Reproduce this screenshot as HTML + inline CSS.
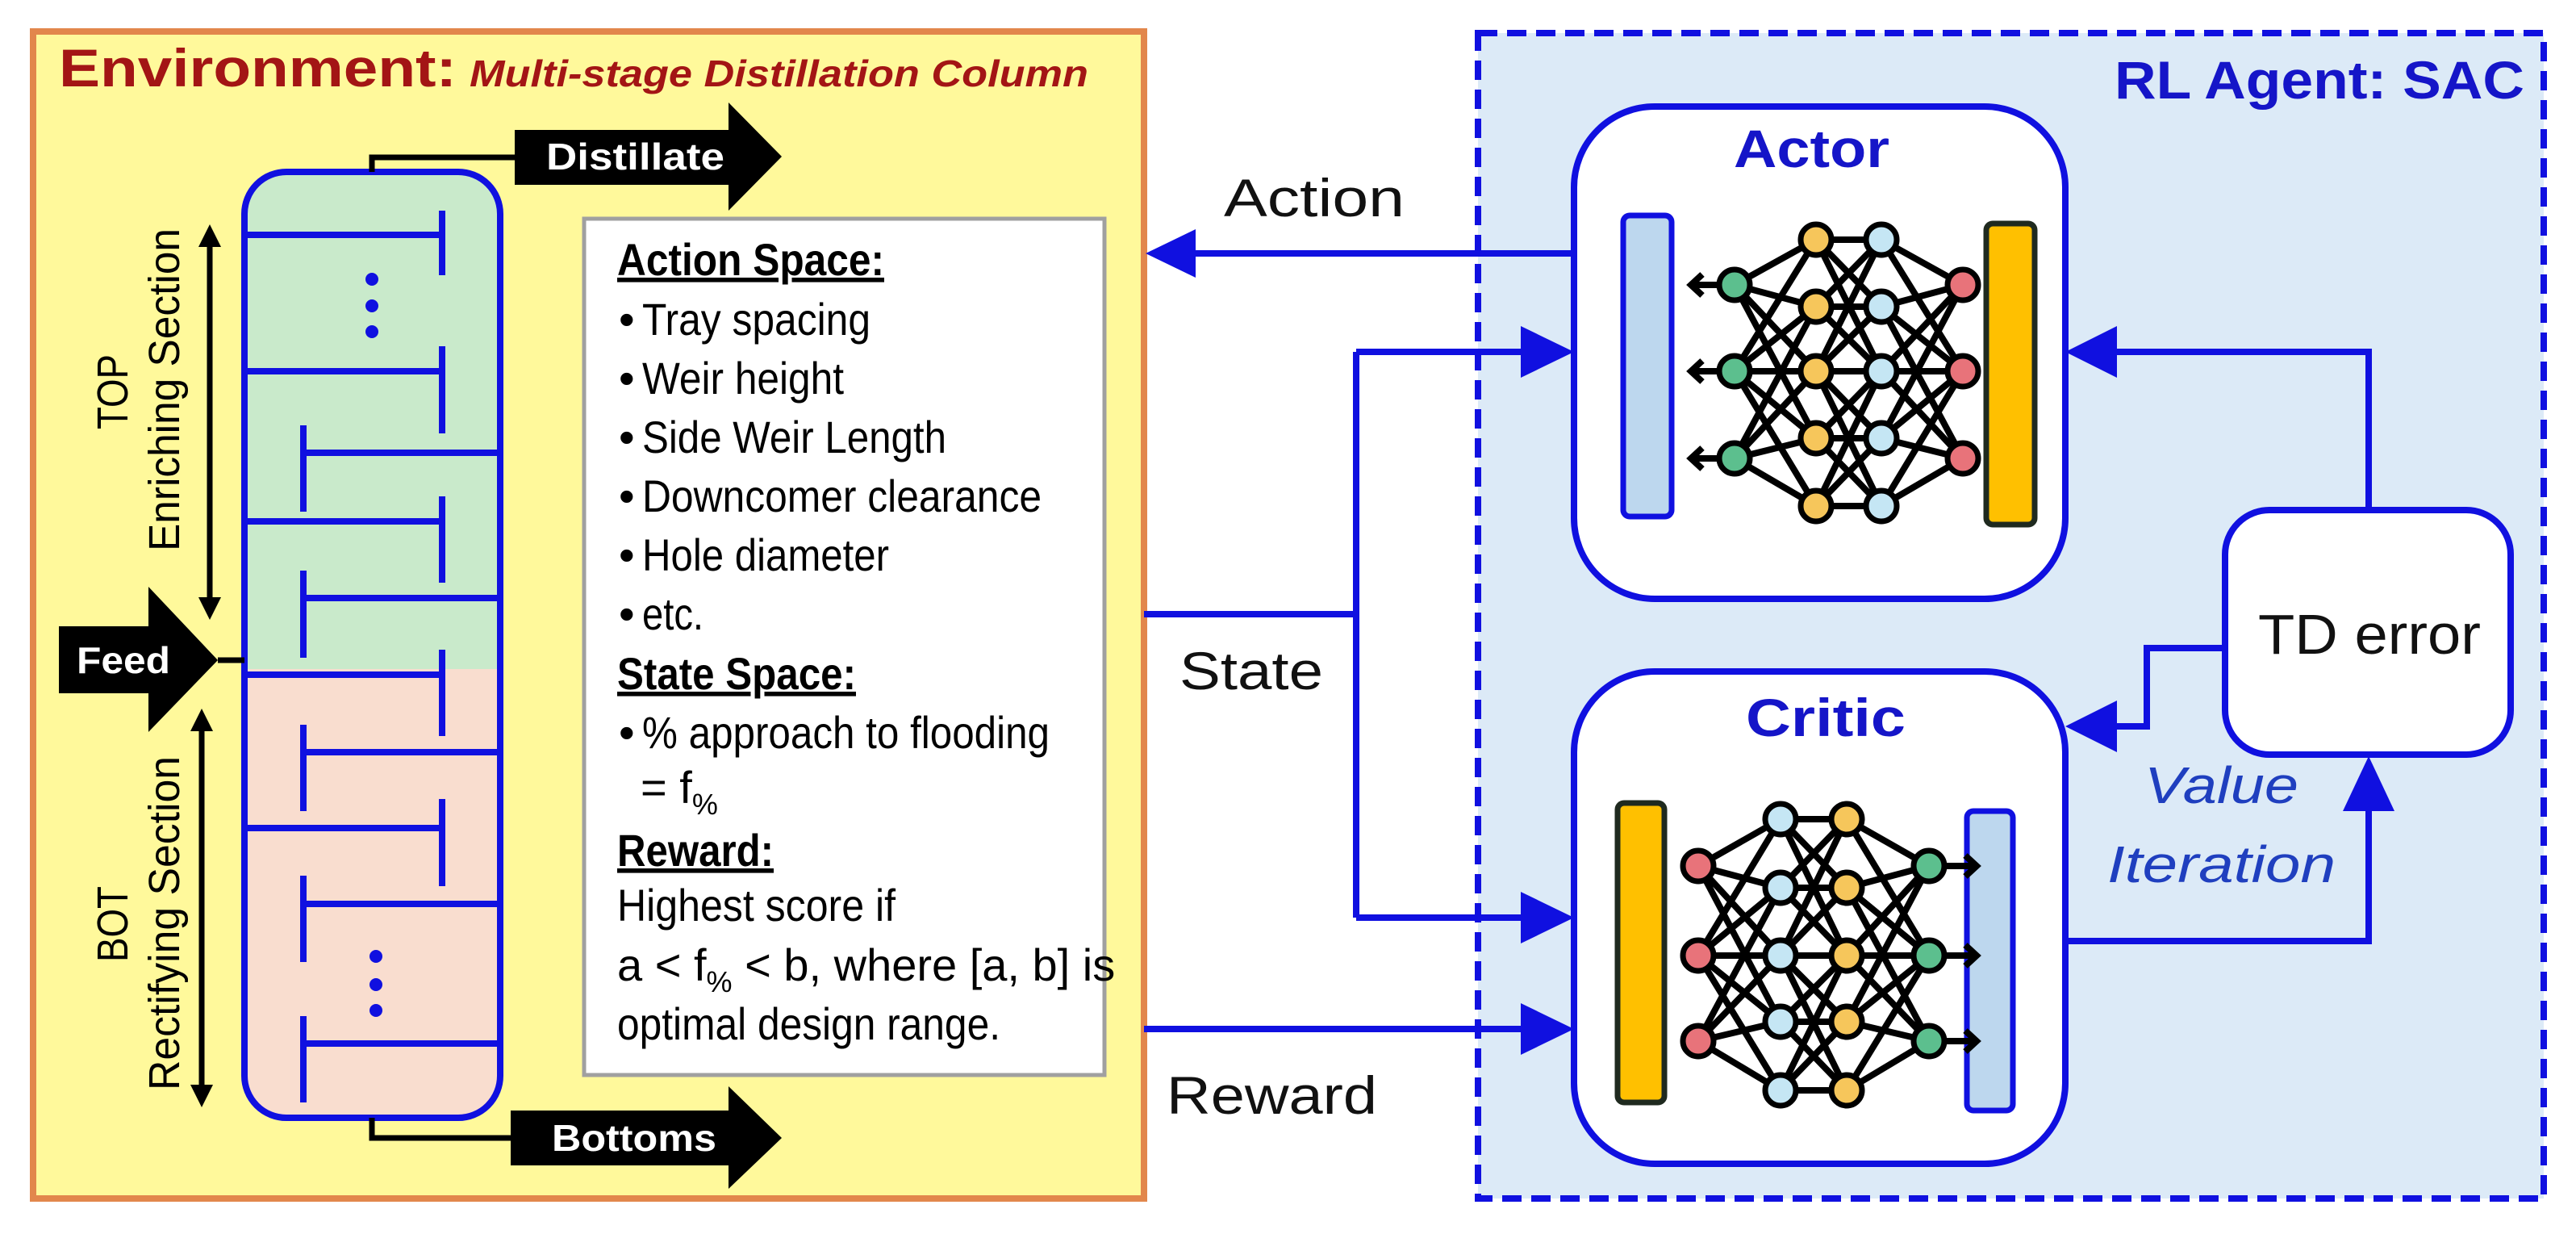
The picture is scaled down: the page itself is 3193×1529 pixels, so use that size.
<!DOCTYPE html>
<html><head><meta charset="utf-8"><style>html,body{margin:0;padding:0;background:#fff}svg{display:block}</style></head>
<body>
<svg width="3193" height="1529" viewBox="0 0 3193 1529" xmlns="http://www.w3.org/2000/svg" font-family="Liberation Sans, Arial, sans-serif">
<defs>
<clipPath id="col"><rect x="303" y="213" width="317" height="1172" rx="52"/></clipPath>
</defs>
<!-- Environment box -->
<rect x="41" y="39" width="1377" height="1446" fill="#FFF99B" stroke="#E2874C" stroke-width="8"/>
<text x="73" y="107" font-size="66" font-weight="bold" fill="#A31515" textLength="493" lengthAdjust="spacingAndGlyphs">Environment:</text>
<text x="582" y="107" font-size="46" font-weight="bold" font-style="italic" fill="#A31515" textLength="767" lengthAdjust="spacingAndGlyphs">Multi-stage Distillation Column</text>

<!-- column -->
<g clip-path="url(#col)">
<rect x="303" y="213" width="317" height="616" fill="#C9EACB"/>
<rect x="303" y="829" width="317" height="560" fill="#F9DDCF"/>
</g>
<g stroke="#1010E0" stroke-width="8" fill="none">
<path d="M303 291H548M548 261V341"/>
<path d="M303 460H548M548 429V537"/>
<path d="M303 646H548M548 615V722"/>
<path d="M303 836H548M548 805V912"/>
<path d="M303 1026H548M548 990V1098"/>
<path d="M620 561H376M376 527V634"/>
<path d="M620 741H376M376 707V815"/>
<path d="M620 932H376M376 898V1005"/>
<path d="M620 1120H376M376 1085V1192"/>
<path d="M620 1293H376M376 1259V1366"/>
<rect x="303" y="213" width="317" height="1172" rx="52"/>
</g>
<g fill="#1010E0">
<circle cx="461" cy="346" r="8"/><circle cx="461" cy="379" r="8"/><circle cx="461" cy="411" r="8"/>
<circle cx="466" cy="1185" r="8"/><circle cx="466" cy="1220" r="8"/><circle cx="466" cy="1252" r="8"/>
</g>
<!-- pipes & arrows -->
<g stroke="#000" stroke-width="7" fill="none">
<path d="M461 213V195H640"/>
<path d="M461 1385V1410H640"/>
<path d="M270 818H303"/>
<path d="M260 300V750"/>
<path d="M250 900V1352"/>
</g>
<g fill="#000">
<path d="M638 161H903V127L969 194L903 261V229H638Z"/>
<path d="M633 1376H903V1346L969 1410L903 1473V1444H633Z"/>
<path d="M73 776H184V727L270 818L184 907V859H73Z"/>
<path d="M260 278L246 306H274Z"/><path d="M260 768L246 740H274Z"/>
<path d="M250 878L236 906H264Z"/><path d="M250 1372L236 1344H264Z"/>
</g>
<text x="677" y="210" font-size="46" font-weight="bold" fill="#fff" textLength="221" lengthAdjust="spacingAndGlyphs">Distillate</text>
<text x="684" y="1426" font-size="46" font-weight="bold" fill="#fff" textLength="204" lengthAdjust="spacingAndGlyphs">Bottoms</text>
<text x="95" y="834" font-size="46" font-weight="bold" fill="#fff" textLength="116" lengthAdjust="spacingAndGlyphs">Feed</text>
<g font-size="54" fill="#000">
<text transform="translate(158,532) rotate(-90)" textLength="93" lengthAdjust="spacingAndGlyphs">TOP</text>
<text transform="translate(222,683) rotate(-90)" textLength="400" lengthAdjust="spacingAndGlyphs">Enriching Section</text>
<text transform="translate(158,1192) rotate(-90)" textLength="94" lengthAdjust="spacingAndGlyphs">BOT</text>
<text transform="translate(222,1351) rotate(-90)" textLength="414" lengthAdjust="spacingAndGlyphs">Rectifying Section</text>
</g>

<!-- text box -->
<rect x="724" y="271" width="645" height="1061" fill="#fff" stroke="#A0A0A0" stroke-width="5"/>
<g font-size="56" fill="#000">
<text x="765" y="341" font-weight="bold" text-decoration="underline" textLength="331" lengthAdjust="spacingAndGlyphs">Action Space:</text>
<text x="767" y="415">•</text><text x="796" y="415" textLength="283" lengthAdjust="spacingAndGlyphs">Tray spacing</text>
<text x="767" y="488">•</text><text x="796" y="488" textLength="250" lengthAdjust="spacingAndGlyphs">Weir height</text>
<text x="767" y="561">•</text><text x="796" y="561" textLength="377" lengthAdjust="spacingAndGlyphs">Side Weir Length</text>
<text x="767" y="634">•</text><text x="796" y="634" textLength="495" lengthAdjust="spacingAndGlyphs">Downcomer clearance</text>
<text x="767" y="707">•</text><text x="796" y="707" textLength="306" lengthAdjust="spacingAndGlyphs">Hole diameter</text>
<text x="767" y="780">•</text><text x="796" y="780" textLength="76" lengthAdjust="spacingAndGlyphs">etc.</text>
<text x="765" y="854" font-weight="bold" text-decoration="underline" textLength="296" lengthAdjust="spacingAndGlyphs">State Space:</text>
<text x="767" y="927">•</text><text x="796" y="927" textLength="505" lengthAdjust="spacingAndGlyphs">% approach to flooding</text>
<text x="794" y="995">= f<tspan font-size="36" dy="14">%</tspan></text>
<text x="765" y="1073" font-weight="bold" text-decoration="underline" textLength="194" lengthAdjust="spacingAndGlyphs">Reward:</text>
<text x="765" y="1141" textLength="345" lengthAdjust="spacingAndGlyphs">Highest score if</text>
<text x="765" y="1215">a &lt; f<tspan font-size="36" dy="14">%</tspan><tspan dy="-14"> &lt; b, where [a, b] is</tspan></text>
<text x="765" y="1288" textLength="475" lengthAdjust="spacingAndGlyphs">optimal design range.</text>
</g>

<!-- RL agent box -->
<rect x="1832" y="41" width="1321" height="1444" fill="#DCEAF7" stroke="#1010E0" stroke-width="8" stroke-dasharray="24,12"/>
<text x="2621" y="122" font-size="66" font-weight="bold" fill="#1515C8" textLength="508" lengthAdjust="spacingAndGlyphs">RL Agent: SAC</text>

<!-- connectors -->
<g stroke="#1010E0" stroke-width="8" fill="none">
<path d="M1951 314H1470"/>
<path d="M1418 761H1681M1681 436V1137M1681 436H1900M1681 1137H1900"/>
<path d="M1418 1275H1900"/>
<path d="M2936 632V436H2615"/>
<path d="M2758 803H2661V900H2615"/>
<path d="M2560 1166H2936V1000"/>
</g>
<g fill="#1010E0">
<path d="M1420 314L1482 284V344Z"/>
<path d="M1951 436L1885 404V468Z"/>
<path d="M1951 1137L1885 1105V1169Z"/>
<path d="M1951 1275L1885 1243V1307Z"/>
<path d="M2560 436L2624 404V468Z"/>
<path d="M2560 900L2624 868V932Z"/>
<path d="M2936 937L2904 1005H2968Z"/>
</g>
<g font-size="66" fill="#111">
<text x="1517" y="268" textLength="224" lengthAdjust="spacingAndGlyphs">Action</text>
<text x="1462" y="854" textLength="178" lengthAdjust="spacingAndGlyphs">State</text>
<text x="1446" y="1380" textLength="261" lengthAdjust="spacingAndGlyphs">Reward</text>
</g>

<!-- Actor -->
<rect x="1951" y="132" width="609" height="610" rx="100" fill="#fff" stroke="#1010E0" stroke-width="8"/>
<text x="2149" y="207" font-size="66" font-weight="bold" fill="#1515C8" textLength="193" lengthAdjust="spacingAndGlyphs">Actor</text>
<rect x="2012" y="267" width="60" height="373" rx="8" fill="#BDD7EE" stroke="#1010E0" stroke-width="7"/>
<rect x="2462" y="277" width="60" height="373" rx="8" fill="#FFC000" stroke="#1F2A1F" stroke-width="7"/>
<g stroke="#000" stroke-width="8">
<path d="M2150 353L2251 297M2150 353L2251 380M2150 353L2251 460M2150 353L2251 543M2150 460L2251 297M2150 460L2251 380M2150 460L2251 460M2150 460L2251 543M2150 460L2251 627M2150 568L2251 380M2150 568L2251 460M2150 568L2251 543M2150 568L2251 627"/>
<path d="M2251 297L2332 297M2251 297L2332 380M2251 380L2332 297M2251 380L2332 380M2251 380L2332 460M2251 460L2332 380M2251 460L2332 460M2251 460L2332 543M2251 543L2332 460M2251 543L2332 543M2251 543L2332 627M2251 627L2332 543M2251 627L2332 627M2251 297L2332 460M2251 460L2332 297M2251 460L2332 627M2251 627L2332 460"/>
<path d="M2332 297L2433 353M2332 380L2433 353M2332 460L2433 353M2332 543L2433 353M2332 297L2433 460M2332 380L2433 460M2332 460L2433 460M2332 543L2433 460M2332 627L2433 460M2332 380L2433 568M2332 460L2433 568M2332 543L2433 568M2332 627L2433 568"/>
<path d="M2150 353H2098M2150 460H2098M2150 568H2098"/>
<path d="M2110 340L2096 353L2110 366M2110 447L2096 460L2110 473M2110 555L2096 568L2110 581" fill="none"/>
</g>
<g stroke="#000" stroke-width="7">
<g fill="#5CBF8E"><circle cx="2150" cy="353" r="19"/><circle cx="2150" cy="460" r="19"/><circle cx="2150" cy="568" r="19"/></g>
<g fill="#F6C65B"><circle cx="2251" cy="297" r="19"/><circle cx="2251" cy="380" r="19"/><circle cx="2251" cy="460" r="19"/><circle cx="2251" cy="543" r="19"/><circle cx="2251" cy="627" r="19"/></g>
<g fill="#C5E6F4"><circle cx="2332" cy="297" r="19"/><circle cx="2332" cy="380" r="19"/><circle cx="2332" cy="460" r="19"/><circle cx="2332" cy="543" r="19"/><circle cx="2332" cy="627" r="19"/></g>
<g fill="#E8737A"><circle cx="2433" cy="353" r="19"/><circle cx="2433" cy="460" r="19"/><circle cx="2433" cy="568" r="19"/></g>
</g>

<!-- Critic -->
<rect x="1951" y="832" width="609" height="610" rx="100" fill="#fff" stroke="#1010E0" stroke-width="8"/>
<text x="2164" y="912" font-size="66" font-weight="bold" fill="#1515C8" textLength="198" lengthAdjust="spacingAndGlyphs">Critic</text>
<rect x="2005" y="995" width="58" height="371" rx="8" fill="#FFC000" stroke="#1F2A1F" stroke-width="7"/>
<rect x="2438" y="1005" width="57" height="371" rx="8" fill="#BDD7EE" stroke="#1010E0" stroke-width="7"/>
<g stroke="#000" stroke-width="8" fill="none">
<path d="M2105 1073L2207 1015M2105 1073L2207 1100M2105 1073L2207 1184M2105 1073L2207 1266M2105 1184L2207 1015M2105 1184L2207 1100M2105 1184L2207 1184M2105 1184L2207 1266M2105 1184L2207 1351M2105 1290L2207 1100M2105 1290L2207 1184M2105 1290L2207 1266M2105 1290L2207 1351"/>
<path d="M2207 1015L2289 1015M2207 1015L2289 1100M2207 1100L2289 1015M2207 1100L2289 1100M2207 1100L2289 1184M2207 1184L2289 1100M2207 1184L2289 1184M2207 1184L2289 1266M2207 1266L2289 1184M2207 1266L2289 1266M2207 1266L2289 1351M2207 1351L2289 1266M2207 1351L2289 1351M2207 1015L2289 1184M2207 1184L2289 1015M2207 1184L2289 1351M2207 1351L2289 1184"/>
<path d="M2289 1015L2391 1073M2289 1100L2391 1073M2289 1184L2391 1073M2289 1266L2391 1073M2289 1015L2391 1184M2289 1100L2391 1184M2289 1184L2391 1184M2289 1266L2391 1184M2289 1351L2391 1184M2289 1100L2391 1290M2289 1184L2391 1290M2289 1266L2391 1290M2289 1351L2391 1290"/>
<path d="M2391 1073H2448M2391 1184H2448M2391 1290H2448"/>
<path d="M2436 1060L2450 1073L2436 1086M2436 1171L2450 1184L2436 1197M2436 1277L2450 1290L2436 1303"/>
</g>
<g stroke="#000" stroke-width="7">
<g fill="#E8737A"><circle cx="2105" cy="1073" r="19"/><circle cx="2105" cy="1184" r="19"/><circle cx="2105" cy="1290" r="19"/></g>
<g fill="#C5E6F4"><circle cx="2207" cy="1015" r="19"/><circle cx="2207" cy="1100" r="19"/><circle cx="2207" cy="1184" r="19"/><circle cx="2207" cy="1266" r="19"/><circle cx="2207" cy="1351" r="19"/></g>
<g fill="#F6C65B"><circle cx="2289" cy="1015" r="19"/><circle cx="2289" cy="1100" r="19"/><circle cx="2289" cy="1184" r="19"/><circle cx="2289" cy="1266" r="19"/><circle cx="2289" cy="1351" r="19"/></g>
<g fill="#5CBF8E"><circle cx="2391" cy="1073" r="19"/><circle cx="2391" cy="1184" r="19"/><circle cx="2391" cy="1290" r="19"/></g>
</g>

<!-- TD error -->
<rect x="2758" y="632" width="354" height="303" rx="55" fill="#fff" stroke="#1010E0" stroke-width="8"/>
<text x="2799" y="810" font-size="70" fill="#111" textLength="276" lengthAdjust="spacingAndGlyphs">TD error</text>
<g font-size="64" font-style="italic" fill="#1F3FBF">
<text x="2658" y="995" textLength="191" lengthAdjust="spacingAndGlyphs">Value</text>
<text x="2612" y="1093" textLength="283" lengthAdjust="spacingAndGlyphs">Iteration</text>
</g>
</svg>
</body></html>
